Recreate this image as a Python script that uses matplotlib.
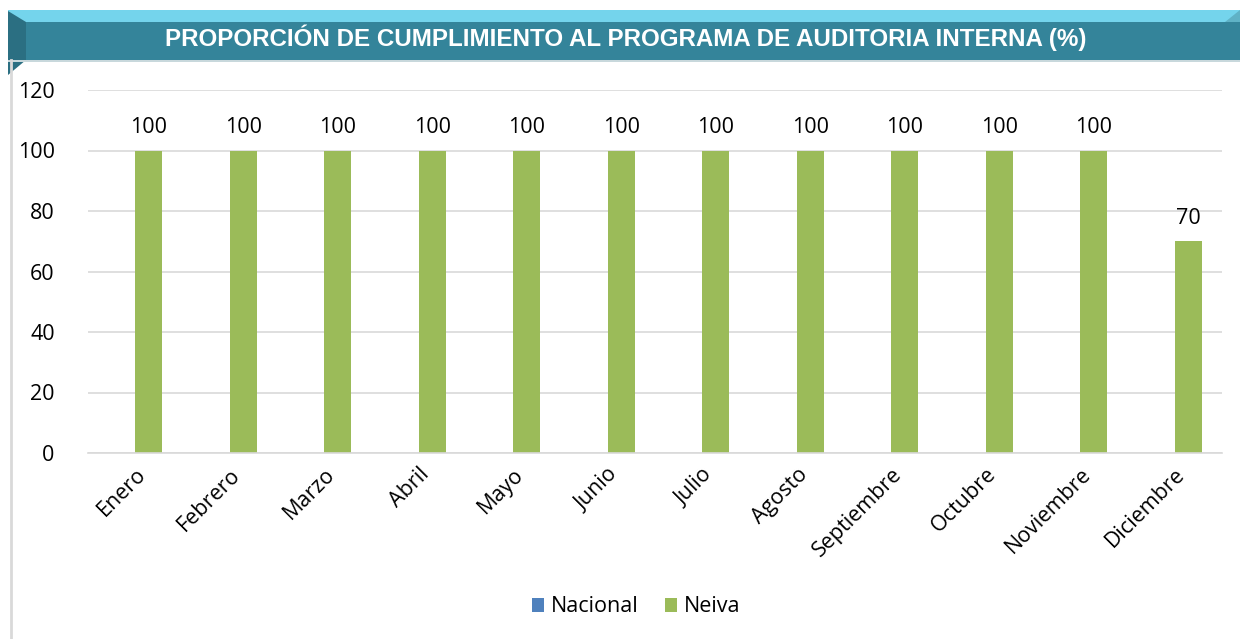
import matplotlib.pyplot as plt
import matplotlib.patches as mpatches
import numpy as np

meses = ['Enero', 'Febrero', 'Marzo', 'Abril', 'Mayo', 'Junio', 'Julio',
         'Agosto', 'Septiembre', 'Octubre', 'Noviembre', 'Diciembre']
nacional = [0, 0, 0, 0, 0, 0, 0, 0, 0, 0, 0, 0]
neiva = [100, 100, 100, 100, 100, 100, 100, 100, 100, 100, 100, 70]
titulo = 'PROPORCIÓN DE CUMPLIMIENTO AL PROGRAMA DE AUDITORIA INTERNA (%)'

plt.rcParams['font.family'] = ['Open Sans', 'DejaVu Sans']

W, H = 1240, 639
fig = plt.figure(figsize=(W / 100, H / 100), dpi=100)

# banner
bg = fig.add_axes([0, 0, 1, 1])
bg.set_xlim(0, W)
bg.set_ylim(H, 0)
bg.axis('off')
bg.plot([11, 11], [60, H], color='#d9d9d9', lw=2)
bg.add_patch(mpatches.Rectangle((8, 10), W - 8, 13, color='#74d4ec', lw=0))
bg.add_patch(mpatches.Rectangle((8, 22), W - 8, 38, color='#34849a', lw=0))
bg.add_patch(mpatches.Polygon([[8, 11], [26, 22], [26, 60], [8, 75]], color='#2b6f82', lw=0))
bg.add_patch(mpatches.Polygon([[1240, 10], [1225, 22], [1240, 22]], color='#5fb2c6', lw=0))
bg.add_patch(mpatches.Rectangle((8, 60), W - 8, 2, color='#c8d8dc', lw=0))
bg.text(626, 38, titulo, color='white', fontsize=17.4, fontweight='bold',
        family='Liberation Sans', ha='center', va='center')

# chart
ax = fig.add_axes([88 / W, 1 - 453 / H, (1222 - 88) / W, (453 - 90) / H])
x = np.arange(len(meses))
w = 0.286
ax.bar(x - w / 2, nacional, w, color='#4f81bd', label='Nacional')
ax.bar(x + w / 2, neiva, w, color='#9bbb59', label='Neiva')
for xi, v in zip(x, neiva):
    ax.text(xi + w / 2, v + 4, str(v), ha='center', va='bottom', fontsize=15.5)

ax.set_xlim(-0.5, len(meses) - 0.5)
ax.set_ylim(0, 120)
ax.set_yticks(range(0, 121, 20))
ax.yaxis.grid(True, color='#d9d9d9', lw=1.2)
ax.set_axisbelow(True)
for s in ['top', 'right', 'left']:
    ax.spines[s].set_visible(False)
ax.spines['bottom'].set_color('#d9d9d9')
ax.spines['bottom'].set_linewidth(1.2)
ax.tick_params(axis='both', length=0, labelsize=15.5)
ax.tick_params(axis='y', pad=24)
ax.set_xticks(x)
ax.set_xticklabels(meses, rotation=45, ha='right', rotation_mode='anchor')
ax.tick_params(axis='x', pad=8)

fig.legend(loc='center', bbox_to_anchor=(636 / W, 1 - 607 / H), ncol=2,
           frameon=False, fontsize=15.5, handlelength=0.6, handleheight=0.6,
           handletextpad=0.3, columnspacing=1.2)

fig.savefig('out.png', dpi=100)
